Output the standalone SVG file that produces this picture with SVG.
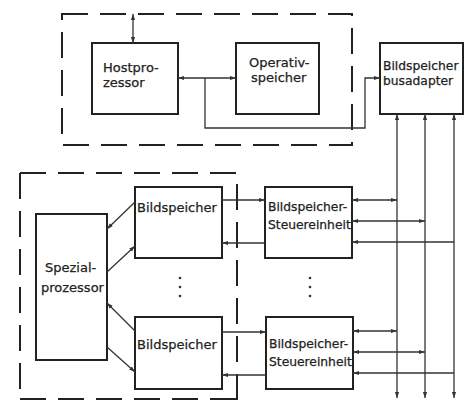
<svg xmlns="http://www.w3.org/2000/svg" width="465" height="400" viewBox="0 0 465 400">
<style>
.box{fill:none;stroke:#222;stroke-width:2}
.dash{fill:none;stroke:#222;stroke-width:2;stroke-dasharray:26 12}
.c{fill:none;stroke:#333;stroke-width:1.3}
text{font-family:"DejaVu Sans","Liberation Sans",sans-serif;font-size:13px;fill:#222;stroke:#222;stroke-width:0.25}
.s{font-size:12.3px}
.dot{fill:#333}
</style>
<defs>
<marker id="a" viewBox="0 0 10 10" refX="10" refY="5" markerWidth="6" markerHeight="6" orient="auto-start-reverse" markerUnits="userSpaceOnUse"><path d="M0,1.5 L10,5 L0,8.5 z" fill="#333"/></marker>
</defs>
<rect width="465" height="400" fill="#fff"/>
<g id="frames">
<path class="dash" d="M62,14 H352 V145 H62 Z"/>
<path class="dash" d="M20,173 H237 V400 M20,173 V400 M20,399 H237"/>
</g>
<g id="host"><rect class="box" x="92" y="43" width="86" height="71"/><text x="103" y="72">Hostpro-</text><text x="103" y="87">zessor</text></g>
<g id="operativ"><rect class="box" x="236" y="43" width="83" height="71"/><text x="249" y="67">Operativ-</text><text x="251" y="82">speicher</text></g>
<g id="busadapter"><rect class="box" x="380" y="43" width="83" height="71"/><text class="s" x="383" y="70">Bildspeicher</text><text class="s" x="383" y="85">busadapter</text></g>
<g id="spezial"><rect class="box" x="36" y="214" width="71" height="146"/><text x="45" y="272">Spezial-</text><text x="41" y="292">prozessor</text></g>
<g id="bild1"><rect class="box" x="135" y="187" width="87" height="71"/><text x="137" y="212">Bildspeicher</text></g>
<g id="bild2"><rect class="box" x="135" y="317" width="87" height="72"/><text x="137" y="349">Bildspeicher</text></g>
<g id="steuer1"><rect class="box" x="265" y="187" width="87" height="71"/><text class="s" x="268" y="211">Bildspeicher-</text><text class="s" x="268" y="229">Steuereinheit</text></g>
<g id="steuer2"><rect class="box" x="266" y="317" width="87" height="72"/><text class="s" x="269" y="348">Bildspeicher-</text><text class="s" x="269" y="366">Steuereinheit</text></g>
<g id="dots">
<circle class="dot" cx="180" cy="278" r="1.3"/><circle class="dot" cx="180" cy="287" r="1.3"/><circle class="dot" cx="180" cy="296" r="1.3"/>
<circle class="dot" cx="310" cy="278" r="1.3"/><circle class="dot" cx="310" cy="287" r="1.3"/><circle class="dot" cx="310" cy="296" r="1.3"/>
</g>
<g id="connectors">
<line class="c" x1="133" y1="43" x2="133" y2="14" marker-start="url(#a)" marker-end="url(#a)"/>
<line class="c" x1="178" y1="78" x2="236" y2="78" marker-start="url(#a)" marker-end="url(#a)"/>
<path class="c" d="M205,78 V128 H365 V78 H380" marker-end="url(#a)"/>
<line class="c" x1="397" y1="114" x2="397" y2="398" marker-start="url(#a)" marker-end="url(#a)"/>
<line class="c" x1="425" y1="114" x2="425" y2="398" marker-start="url(#a)" marker-end="url(#a)"/>
<line class="c" x1="454" y1="114" x2="454" y2="398" marker-start="url(#a)" marker-end="url(#a)"/>
<line class="c" x1="135" y1="202" x2="107" y2="229" marker-end="url(#a)"/>
<line class="c" x1="107" y1="272" x2="135" y2="246" marker-end="url(#a)"/>
<line class="c" x1="135" y1="331" x2="107" y2="303" marker-end="url(#a)"/>
<line class="c" x1="107" y1="347" x2="135" y2="372" marker-end="url(#a)"/>
<line class="c" x1="222" y1="200" x2="265" y2="200" marker-end="url(#a)"/>
<line class="c" x1="265" y1="243" x2="222" y2="243" marker-end="url(#a)"/>
<line class="c" x1="222" y1="332" x2="266" y2="332" marker-end="url(#a)"/>
<line class="c" x1="266" y1="375" x2="222" y2="375" marker-end="url(#a)"/>
<line class="c" x1="352" y1="200" x2="397" y2="200" marker-start="url(#a)" marker-end="url(#a)"/>
<line class="c" x1="352" y1="221" x2="425" y2="221" marker-start="url(#a)" marker-end="url(#a)"/>
<line class="c" x1="454" y1="242" x2="352" y2="242" marker-end="url(#a)"/>
<line class="c" x1="353" y1="331" x2="397" y2="331" marker-start="url(#a)" marker-end="url(#a)"/>
<line class="c" x1="353" y1="352" x2="425" y2="352" marker-start="url(#a)" marker-end="url(#a)"/>
<line class="c" x1="454" y1="373" x2="353" y2="373" marker-end="url(#a)"/>
</g>
</svg>
